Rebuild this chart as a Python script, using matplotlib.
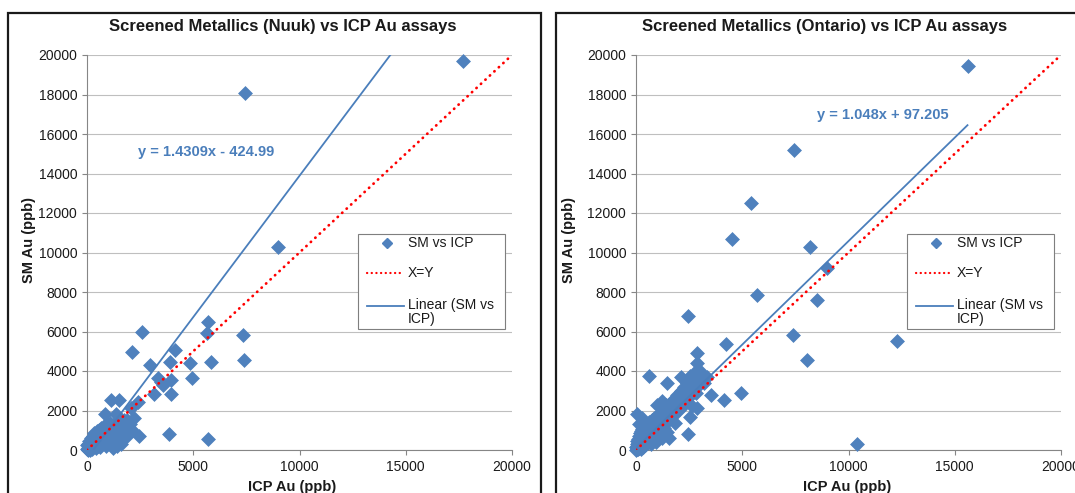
import matplotlib
matplotlib.use("Agg")
import matplotlib.pyplot as plt
from matplotlib.patches import Rectangle
from matplotlib.lines import Line2D
import numpy as np

plt.rcParams['font.family'] = ['Liberation Sans', 'DejaVu Sans']

# ---- Nuuk screened metallics vs ICP (ppb) ----
nuuk_icp = [17700, 7450, 9000, 5700, 2570, 5650, 7350, 2100, 4150, 2950, 3900, 4850,
            5850, 7400, 3350, 3500, 3950, 3570, 4950, 3150, 3950, 2400, 2050, 1150,
            1500, 850, 1360, 1900, 2450, 3850, 5700,
            20, 40, 60, 80, 100, 120, 150, 180, 200, 220, 250, 280, 300, 320, 350, 380,
            400, 420, 450, 480, 500, 520, 550, 580, 600, 620, 650, 680, 700, 720, 750,
            780, 800, 820, 850, 880, 900, 920, 950, 980, 1000, 1020, 1050, 1080, 1100,
            1120, 1150, 1180, 1200, 1250, 1280, 1300, 1350, 1380, 1400, 1450, 1500,
            1550, 1600, 1650, 1700, 1750, 1800, 1850, 1900, 2000, 2100, 2200, 30, 10,
            70, 130, 250, 400, 600, 900, 1200, 1430, 1600]
nuuk_sm = [19700, 18100, 10300, 6500, 5950, 5900, 5800, 4950, 5050, 4300, 4450, 4400,
           4450, 4550, 3650, 3450, 3550, 3280, 3650, 2850, 2850, 2450, 2150, 2550,
           2550, 1800, 1800, 1500, 700, 800, 550,
           50, 120, 300, 200, 450, 80, 350, 150, 600, 420, 250, 700, 500, 180, 850, 400,
           620, 300, 950, 550, 750, 220, 1000, 650, 420, 880, 300, 1100, 780, 520, 950,
           1200, 650, 400, 1050, 800, 1150, 550, 900, 1250, 700, 450, 1000, 1350, 850,
           600, 1150, 350, 950, 1300, 750, 1100, 500, 900, 1200, 700, 1000,
           400, 850, 1200, 600, 1500, 900, 1100, 700, 1300, 1000, 1600, 10, 250,
           30, 20, 60, 100, 150, 200, 100, 200, 300]

# ---- Ontario screened metallics vs ICP (ppb) ----
ontario_icp = [15600, 7450, 5400, 4500, 8200, 9000, 5700, 8500, 2450, 7400, 12300, 4250,
               8050, 10400, 4150, 3550, 4950, 600, 1450, 50, 2100, 2560,
               10, 20, 30, 40, 50, 60, 70, 80, 90, 100, 110, 120, 130, 140, 150, 160, 170,
               180, 190, 200, 210, 220, 230, 240, 250, 260, 270, 280, 290, 300, 310, 320,
               330, 340, 350, 360, 370, 380, 390, 400, 420, 440, 460, 480, 500, 520, 540,
               560, 580, 600, 620, 640, 660, 680, 700, 720, 740, 760, 780, 800, 820, 840,
               860, 880, 900, 920, 950, 980, 1000, 1020, 1050, 1080, 1100, 1130, 1150,
               1180, 1200, 1230, 1250, 1280, 1300, 1330, 1350, 1380, 1400, 1420, 1450,
               1480, 1500, 1530, 1550, 1580, 1600, 1650, 1700, 1750, 1800, 1850, 1850,
               1900, 1950, 2000, 2050, 2100, 2150, 2200, 2250, 2300, 2350, 2400, 2450,
               2450, 2500, 2550, 2600, 2640, 2700, 2750, 2800, 2850, 2850, 2880, 2900,
               2950, 3000, 3100, 3200, 3350, 150, 300, 1200, 1000]
ontario_sm = [19450, 15200, 12500, 10700, 10300, 9200, 7850, 7600, 6800, 5800, 5500, 5350,
              4550, 300, 2550, 2800, 2900, 3750, 3400, 1800, 3700, 3750,
              20, 150, 60, 300, 100, 450, 200, 30, 350, 550, 120, 250, 700, 400, 80, 500,
              300, 850, 180, 620, 420, 50, 750, 320, 950, 500, 200, 650, 1050, 400, 800,
              150, 600, 1100, 300, 900, 700, 450, 1200, 250, 800, 1000, 550, 1300, 350,
              900, 700, 1150, 450, 1000, 1400, 800, 600, 1200, 950, 300, 1100, 1500, 750,
              1300, 550, 1000, 1600, 850, 1200, 400, 1450, 1000, 1700, 750, 1300, 1100,
              1800, 900, 1500, 1250, 1950, 600, 1400, 1700, 1100, 2100, 1600, 1300, 1900,
              2300, 1500, 900, 1800, 590, 2100, 1600, 2400, 1900, 2200, 1700, 2600, 1350,
              2300, 2000, 2800, 2400, 2100, 3000, 2600, 2300, 3200, 2800, 2500, 3400,
              3100, 800, 2700, 1670, 3600, 2250, 3300, 3900, 2900, 4900, 4380, 2150, 3700,
              3300, 4000, 3600, 3400, 3700, 1300, 1600, 2500, 2300]

nuuk_fit = (1.4309, -424.99)
ontario_fit = (1.048, 97.205)

titles = ["Screened Metallics (Nuuk) vs ICP Au assays",
          "Screened Metallics (Ontario) vs ICP Au assays"]
equations = ["y = 1.4309x - 424.99", "y = 1.048x + 97.205"]
x_label = "ICP Au (ppb)"
y_label = "SM Au (ppb)"
legend_labels = ["SM vs ICP", "X=Y", "Linear (SM vs\nICP)"]

BLUE = "#4F81BD"
TREND = "#4A7EBB"
GRID = "#BFBFBF"
AXIS = "#868686"

W, H = 1075, 493
fig = plt.figure(figsize=(W / 100, H / 100), dpi=100)

# panel frames (px)
for x0, x1 in [(8, 541), (556, 1100)]:
    fig.add_artist(Rectangle((x0 / W, -0.1), (x1 - x0) / W, 1.1 - 13 / H,
                             transform=fig.transFigure, fill=False,
                             edgecolor="#1a1a1a", lw=1.6))

panels = [
    dict(left=87, xs=nuuk_icp, ys=nuuk_sm, fit=nuuk_fit, eq_xy=(0.12, 0.754),
         title_x=283, ylab_x=29, xlab_x=292),
    dict(left=636, xs=ontario_icp, ys=ontario_sm, fit=ontario_fit, eq_xy=(0.426, 0.848),
         title_x=825, ylab_x=569, xlab_x=847),
]

ax_w, ax_top, ax_bot = 425, 55, 450
for i, p in enumerate(panels):
    ax = fig.add_axes([p["left"] / W, (H - ax_bot) / H, ax_w / W, (ax_bot - ax_top) / H])
    ax.set_xlim(0, 20000)
    ax.set_ylim(0, 20000)
    ax.set_xticks(np.arange(0, 20001, 5000))
    ax.set_yticks(np.arange(0, 20001, 2000))
    ax.grid(axis="y", color=GRID, lw=0.8)
    ax.set_axisbelow(True)
    for s in ["top", "right"]:
        ax.spines[s].set_visible(False)
    for s in ["left", "bottom"]:
        ax.spines[s].set_color(AXIS)
        ax.spines[s].set_linewidth(0.8)
    ax.tick_params(direction="out", length=3.6, width=0.8, color=AXIS,
                   labelsize=10, pad=3.5, labelcolor="#1a1a1a")

    xs = np.array(p["xs"], dtype=float)
    ys = np.array(p["ys"], dtype=float)
    ax.scatter(xs, ys, marker="D", s=50, color=BLUE, edgecolor=BLUE, lw=0.5,
               zorder=3, clip_on=False)

    m, b = p["fit"]
    tx = np.array([xs.min(), xs.max()])
    ax.plot(tx, m * tx + b, color=TREND, lw=1.3, zorder=4)
    ax.plot([0, 20000], [0, 20000], color="red", lw=2.0,
            linestyle=(0, (0.1, 2.1)), dash_capstyle="round", zorder=5)

    ax.text(p["eq_xy"][0], p["eq_xy"][1], equations[i], transform=ax.transAxes,
            color=TREND, fontsize=10.5, fontweight="bold", ha="left", va="center")

    # legend box
    tr = ax.transAxes
    ax.add_patch(Rectangle((0.637, 0.306), 0.347, 0.241, transform=tr,
                           facecolor="white", edgecolor="#7f7f7f", lw=0.8,
                           zorder=6, clip_on=False))
    ax.add_line(Line2D([0.707], [0.524], transform=tr, marker="D", markersize=5,
                       color=BLUE, lw=0, zorder=7, clip_on=False))
    ax.add_line(Line2D([0.659, 0.745], [0.448, 0.448], transform=tr, color="red",
                       lw=1.6, linestyle=(0, (0.1, 2.0)), dash_capstyle="round",
                       zorder=7, clip_on=False))
    ax.add_line(Line2D([0.659, 0.745], [0.365, 0.365], transform=tr, color=TREND,
                       lw=1.3, zorder=7, clip_on=False))
    for lab, yy, va in [(legend_labels[0], 0.524, "center"),
                        (legend_labels[1], 0.448, "center"),
                        (legend_labels[2], 0.385, "top")]:
        ax.text(0.755, yy, lab, transform=tr, fontsize=10, ha="left", va=va,
                linespacing=1.0, zorder=8, color="#1a1a1a")

    fig.text(p["title_x"] / W, 1 - 26 / H, titles[i], fontsize=12, fontweight="bold",
             ha="center", va="center", color="#1a1a1a")
    fig.text(p["ylab_x"] / W, 1 - 240 / H, y_label, fontsize=10.5, fontweight="bold",
             rotation=90, ha="center", va="center", color="#1a1a1a")
    fig.text(p["xlab_x"] / W, 1 - 487 / H, x_label, fontsize=10.5, fontweight="bold",
             ha="center", va="center", color="#1a1a1a")

fig.savefig("out.png", dpi=100)
